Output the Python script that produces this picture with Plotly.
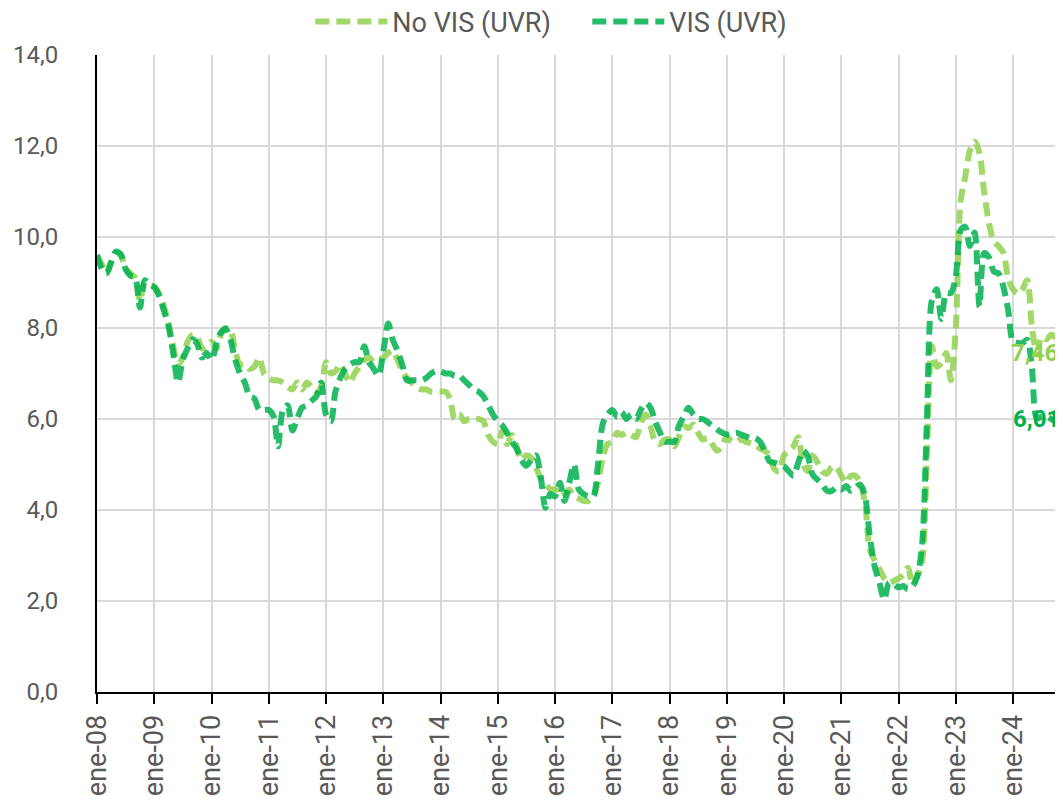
import pandas as pd
import plotly.graph_objects as go

# Monthly series, Jan-2008 .. Dec-2024
dates = pd.date_range("2008-01-01", periods=204, freq="MS")

vis_uvr = (
    [9.6, 9.3, 9.2, 9.45, 9.68, 9.62, 9.3, 9.15, 9.1, 8.45, 9.05, 8.95]      # 2008
    + [8.9, 8.7, 8.4, 8.05, 7.45, 6.8, 7.3, 7.55, 7.75, 7.65, 7.35, 7.45]    # 2009
    + [7.3, 7.65, 7.9, 7.98, 7.75, 7.3, 7.0, 6.8, 6.5, 6.45, 6.2, 6.2]       # 2010
    + [6.2, 6.05, 5.4, 6.2, 6.3, 5.75, 6.0, 6.25, 6.3, 6.4, 6.5, 6.8]        # 2011
    + [6.1, 5.95, 6.6, 6.9, 7.1, 7.2, 7.25, 7.25, 7.6, 7.25, 7.1, 6.95]      # 2012
    + [7.5, 8.1, 7.75, 7.5, 7.2, 6.85, 6.85, 6.85, 6.85, 6.9, 7.0, 7.05]     # 2013
    + [7.05, 7.0, 7.0, 6.95, 6.95, 6.85, 6.75, 6.65, 6.6, 6.5, 6.3, 6.1]     # 2014
    + [5.95, 5.85, 5.7, 5.5, 5.35, 5.1, 4.97, 5.1, 5.2, 4.75, 4.05, 4.35]    # 2015
    + [4.3, 4.6, 4.2, 4.6, 5.0, 4.45, 4.35, 4.3, 4.3, 5.0, 5.9, 6.1]         # 2016
    + [6.2, 6.05, 6.15, 6.0, 6.1, 6.0, 6.2, 6.35, 6.25, 5.95, 5.7, 5.5]      # 2017
    + [5.5, 5.5, 5.85, 6.05, 6.25, 6.1, 6.0, 6.0, 5.93, 5.85, 5.77, 5.7]     # 2018
    + [5.66, 5.66, 5.7, 5.66, 5.62, 5.58, 5.58, 5.5, 5.3, 5.07, 5.04, 5.0]   # 2019
    + [4.96, 4.85, 4.75, 5.04, 5.3, 5.18, 4.78, 4.67, 4.56, 4.42, 4.42, 4.5] # 2020
    + [4.45, 4.53, 4.42, 4.5, 4.56, 4.3, 3.43, 2.77, 2.4, 2.03, 2.4, 2.37]   # 2021
    + [2.3, 2.33, 2.26, 2.33, 2.55, 3.28, 6.0, 8.6, 8.85, 8.2, 8.77, 8.77]   # 2022
    + [9.13, 10.15, 10.23, 9.8, 10.1, 8.47, 9.65, 9.55, 9.24, 9.2, 8.9, 8.4] # 2023
    + [7.7, 7.67, 7.67, 7.74, 7.1, 6.01, 6.05, 6.05, 6.0, 5.95, 6.0, 6.0]    # 2024
)

no_vis_uvr = (
    [9.6, 9.4, 9.2, 9.45, 9.65, 9.6, 9.3, 9.2, 9.1, 8.6, 9.0, 8.95]          # 2008
    + [8.9, 8.75, 8.5, 8.1, 7.6, 7.2, 7.35, 7.7, 7.85, 7.8, 7.55, 7.6]       # 2009
    + [7.7, 7.55, 7.85, 8.0, 7.95, 7.5, 7.2, 7.2, 7.1, 7.15, 7.35, 7.0]      # 2010
    + [6.9, 6.85, 6.85, 6.8, 6.7, 6.65, 6.8, 6.65, 6.8, 6.7, 6.6, 6.7]       # 2011
    + [7.25, 7.0, 7.05, 7.2, 7.0, 6.8, 7.0, 7.15, 7.3, 7.35, 7.25, 7.3]      # 2012
    + [7.35, 7.45, 7.5, 7.3, 7.05, 6.9, 6.8, 6.7, 6.65, 6.65, 6.6, 6.6]      # 2013
    + [6.6, 6.6, 6.45, 6.0, 6.1, 5.95, 6.0, 6.0, 6.0, 5.95, 5.65, 5.5]       # 2014
    + [5.45, 5.75, 5.45, 5.65, 5.4, 5.1, 5.2, 5.15, 4.95, 4.7, 4.6, 4.45]    # 2015
    + [4.45, 4.3, 4.35, 4.45, 4.3, 4.25, 4.2, 4.2, 4.3, 4.6, 5.15, 5.45]     # 2016
    + [5.5, 5.7, 5.65, 5.7, 5.65, 5.6, 5.9, 6.1, 5.85, 5.5, 5.45, 5.55]      # 2017
    + [5.55, 5.4, 5.6, 5.84, 5.8, 5.88, 5.7, 5.55, 5.58, 5.44, 5.3, 5.4]     # 2018
    + [5.62, 5.5, 5.5, 5.55, 5.5, 5.47, 5.44, 5.35, 5.3, 5.2, 4.9, 4.85]     # 2019
    + [5.2, 5.3, 5.4, 5.6, 5.0, 4.85, 5.2, 5.05, 4.85, 4.8, 4.95, 4.95]      # 2020
    + [4.75, 4.6, 4.75, 4.75, 4.6, 4.16, 3.13, 2.9, 2.7, 2.5, 2.4, 2.44]     # 2021
    + [2.5, 2.58, 2.73, 2.37, 2.55, 2.9, 5.25, 7.6, 7.15, 7.23, 7.45, 6.85]  # 2022
    + [8.0, 10.8, 11.3, 11.9, 12.1, 11.85, 11.0, 10.3, 9.9, 9.8, 9.65, 9.1]  # 2023
    + [8.85, 8.75, 8.85, 9.05, 8.0, 7.46, 7.8, 7.75, 7.85, 7.8, 7.9, 8.0]    # 2024
)

series_names = ["No VIS (UVR)", "VIS (UVR)"]
tick_years = list(range(2008, 2026))
tick_dates = [f"{y}-01-01" for y in tick_years]
tick_text = [f"ene-{y % 100:02d}" for y in tick_years]
y_ticks = [0, 2, 4, 6, 8, 10, 12, 14]

label_dates = ["2024-05-20", "2024-05-28"]
label_values = [7.46, 6.01]
label_text = ["7,46", "6,01"]

LIGHT = "rgba(146,208,80,0.85)"
DARK = "rgba(0,176,80,0.85)"
FONT = "Roboto, Liberation Sans, sans-serif"

fig = go.Figure()
fig.add_trace(go.Scatter(
    x=dates, y=no_vis_uvr, name=series_names[0], mode="lines",
    line=dict(color=LIGHT, width=6, dash="14px,7px", shape="spline", smoothing=0.8),
))
fig.add_trace(go.Scatter(
    x=dates, y=vis_uvr, name=series_names[1], mode="lines",
    line=dict(color=DARK, width=6, dash="14px,7px", shape="spline", smoothing=0.8),
))

fig.add_annotation(x=label_dates[0], y=label_values[0], text=f"<b>{label_text[0]}</b>",
                   showarrow=False, xanchor="center", yanchor="middle",
                   font=dict(family=FONT, size=24, color="#92d050"))
fig.add_annotation(x=label_dates[1], y=label_values[1], text=f"<b>{label_text[1]}</b>",
                   showarrow=False, xanchor="center", yanchor="middle",
                   font=dict(family=FONT, size=24, color="#00b050"))

fig.update_layout(
    width=1063, height=807,
    margin=dict(l=89, r=0, t=47, b=123, autoexpand=False),
    paper_bgcolor="white", plot_bgcolor="white",
    separators=",.",
    font=dict(family=FONT, size=24, color="#595959"),
    showlegend=True,
    legend=dict(orientation="h", x=0.219, xanchor="left", y=1.052, yanchor="middle",
                font=dict(size=27, color="#595959"), itemwidth=72,
                entrywidth=190, entrywidthmode="pixels",
                bgcolor="rgba(0,0,0,0)"),
    xaxis=dict(
        type="date", range=["2008-01-01", "2025-01-05"], automargin=False,
        tickmode="array", tickvals=tick_dates, ticktext=tick_text, tickangle=-90,
        showgrid=True, gridcolor="#d9d9d9", gridwidth=2,
        showline=True, linecolor="black", linewidth=2,
        ticks="outside", ticklen=10, tickcolor="black", tickwidth=2,
        tickfont=dict(size=27, color="#595959"),
        zeroline=False,
    ),
    yaxis=dict(
        range=[0, 14], automargin=False,
        tickmode="array", tickvals=y_ticks, tickformat=".1f",
        showgrid=True, gridcolor="#d9d9d9", gridwidth=2,
        showline=True, linecolor="black", linewidth=2,
        ticks="", ticklabelstandoff=32,
        tickfont=dict(size=24, color="#595959"),
        zeroline=False,
    ),
)

fig.write_html("out.html")
